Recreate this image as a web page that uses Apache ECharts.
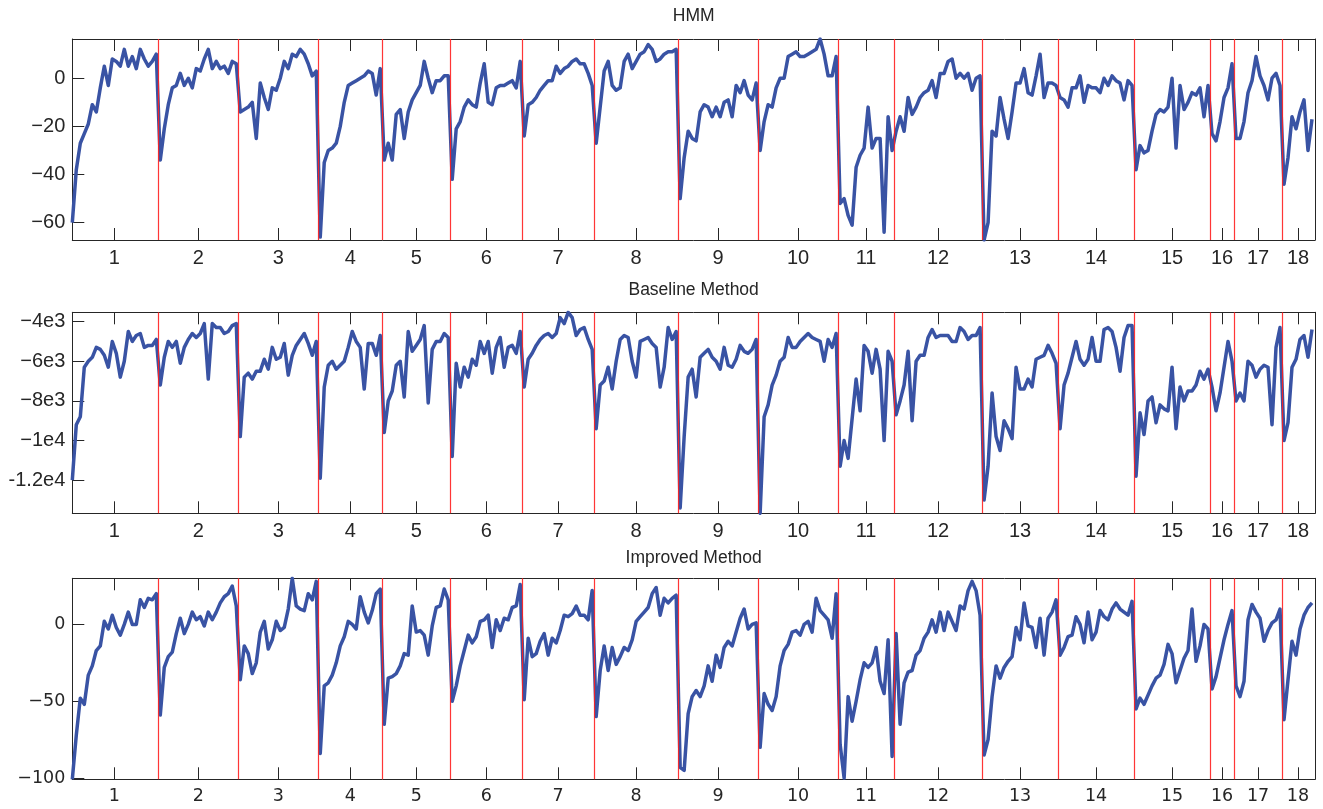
<!DOCTYPE html>
<html>
<head>
<meta charset="utf-8">
<script src="https://cdn.jsdelivr.net/npm/echarts@6/dist/echarts.min.js"></script>
<style>
html,body{margin:0;padding:0;background:#fff;}
#chart{width:1323px;height:809px;}
</style>
</head>
<body>
<div id="chart"></div>
<script>
// Number of frames in each labelled segment (segments 1..18)
const segmentLengths = [22, 20, 20, 16, 17, 18, 18, 21, 20, 20, 14, 22, 19, 19, 19, 6, 12, 8];
const segmentLabels = ['1','2','3','4','5','6','7','8','9','10','11','12','13','14','15','16','17','18'];

// Per-frame scores, one array per method
const hmm = [
  -60, -38, -27, -23, -19, -11, -14, -4, 5, -3, 8, 7, 5, 12, 5, 9, 4, 12, 8, 5, 7, 10,
  -34, -21, -11, -4, -3, 2, -3, 0, -4, 4, 3, 8, 12, 4, 7, 4, 5, 2, 7, 6,
  -14, -13, -12, -10, -25, -2, -8, -13, -4, -5, 0, 7, 4, 10, 9, 12, 10, 6, 1, 3,
  -66, -35, -30, -29, -27, -20, -10, -3, -2, -1, 0, 1, 3, 2, -7, 4,
  -34, -27, -34, -15, -13, -25, -14, -9, -6, -3, 7, 0, -6, -1, -1, 1, 1,
  -42, -21, -18, -12, -9, -11, -12, -2, 6, -10, -11, -4, -3, -3, -2, -1, -4, 7,
  -24, -11, -10, -8, -5, -3, -1, -1, 5, 2, 4, 5, 7, 8, 6, 6, 2, -3,
  -27, -12, 3, 7, -3, -5, -4, 7, 10, 4, 7, 10, 11, 14, 12, 7, 8, 10, 11, 11, 12,
  -50, -33, -22, -25, -26, -14, -11, -12, -16, -12, -16, -10, -9, -16, -3, -6, -1, -7, -9, -2,
  -30, -18, -11, -12, -4, 0, 0, 9, 10, 11, 9, 9, 10, 11, 12, 16.3, 10, 1, 1, 9,
  -52, -50, -57, -61, -37, -32, -29, -12, -29, -25, -25, -64, -16, -30,
  -22, -16, -22, -8, -15, -12, -8, -6, -5, -1, -8, 2, 2, 7, 8, 0, 2, 0, 2, -5, 0, 1,
  -67.2, -60, -22, -24, -8, -17, -25, -14, -2, -2, 4, -6, -7, 1, 10, -8, -2, -2, -3,
  -8, -9, -12, -4, -4, 1, -10, -3, -4, -4, -6, 0, -3, 1, -1, -2, -9, -1, -3,
  -38, -28, -31, -30, -22, -15, -13, -14, -12, 0, -29, -3, -13, -10, -6, -7, -4, -16, -3,
  -23, -26, -18, -8, -4, 6,
  -25, -25, -18, -6, -1, 9, 1, -3, -9, 0, 2, -3,
  -44, -33, -16, -21, -14, -9, -30, -17
];

const baseline = [
  -12000, -9200, -8800, -6300, -6000, -5800, -5300, -5400, -5700, -6300, -5000, -5600, -6800, -6000, -4500, -5000, -4700, -4600, -5300, -5200, -5200, -4900,
  -7200, -5800, -5000, -5300, -5000, -6100, -5300, -4900, -4600, -4800, -4600, -4100, -6900, -4100, -4300, -4300, -4600, -4500, -4200, -4100,
  -9800, -6800, -6600, -6900, -6500, -6500, -5900, -6400, -5300, -5900, -5800, -5100, -6700, -5700, -5200, -4900, -4600, -5100, -5700, -5000,
  -11900, -7300, -6200, -6000, -6400, -6200, -6000, -5300, -4500, -5000, -5300, -7400, -5100, -5100, -5700, -4700,
  -9600, -8000, -7500, -6200, -6000, -7800, -4500, -5500, -5200, -4900, -4200, -8100, -5400, -5000, -5000, -4600, -4800,
  -10800, -6100, -7300, -6300, -6800, -5900, -6200, -5000, -5600, -5000, -6600, -5300, -4800, -6300, -5300, -5200, -5600, -4500,
  -7300, -5900, -5600, -5200, -4900, -4700, -4600, -4800, -4600, -3800, -4100, -3530, -3800, -4700, -4400, -4300, -4900, -5400,
  -9400, -7200, -7000, -6300, -7400, -6000, -4900, -4700, -4800, -6000, -6800, -5000, -4900, -4800, -5100, -5300, -7300, -6300, -4300, -4900, -4500,
  -13400, -9800, -6800, -6400, -7800, -5800, -5600, -5400, -5800, -6000, -6400, -5300, -6200, -6300, -5900, -5200, -5500, -5600, -5400, -4900,
  -13670, -8800, -8200, -7200, -6700, -6000, -5800, -4800, -5300, -5300, -5000, -4800, -4600, -4800, -4900, -5000, -6000, -4900, -5300, -4600,
  -11300, -10000, -10900, -8900, -6900, -8500, -5200, -5500, -6600, -5400, -6400, -10000, -5500, -6000,
  -8700, -8000, -7200, -5500, -9000, -6000, -5700, -5700, -4800, -4400, -4800, -4700, -4700, -4700, -5000, -5000, -4300, -4500, -4900, -4700, -4700, -4300,
  -13000, -11300, -7600, -9800, -10500, -9000, -9400, -9900, -6300, -7400, -7400, -6900, -7300, -5900, -5800, -5700, -5200, -5600, -6100,
  -9400, -7200, -6600, -5800, -5000, -5900, -6200, -5900, -4800, -6000, -6000, -4400, -4300, -4500, -5300, -6500, -4800, -4200, -4200,
  -11800, -8600, -9700, -8000, -7800, -9100, -8200, -8400, -8500, -6300, -9400, -7300, -8000, -7500, -7500, -7200, -6500, -6900, -6400,
  -7300, -8500, -7600, -6300, -5000, -6000,
  -8000, -7600, -8000, -6000, -6200, -6800, -6400, -6200, -6300, -9200, -5300, -4300,
  -10000, -9100, -6300, -5900, -4900, -4700, -5800, -4400
];

const improved = [
  -100.8, -72, -48, -52, -33, -27, -17, -14, 2, -3, 6, -2, -7, 0, 8, 0, 0, 16, 11, 17, 16, 20,
  -59, -28, -21, -18, -6, 4, -6, 0, 8, 3, 5, -1, 8, 3, 8, 14, 18, 20, 25, 12,
  -36, -14, -19, -32, -25, -5, 2, -16, -10, 2, -4, -2, 10, 30, 12, 10, 9, 20, 16, 28,
  -84, -40, -38, -33, -25, -14, -8, 2, 0, -3, 18, 8, 1, 9, 20, 23,
  -65, -35, -34, -32, -27, -19, -20, 12, -5, -4, -7, -20, -1, 11, 12, 23, 16,
  -50, -40, -27, -17, -7, -12, -8, 2, 3, 6, -15, 3, -4, 4, 3, 11, 12, 26,
  -49, -9, -21, -19, -11, -6, -20, -9, -12, -4, 6, 5, 7, 12, 6, 6, 3, 22,
  -60, -30, -14, -30, -15, -26, -21, -15, -17, -10, 2, 5, 8, 11, 20, 24, 6, 17, 14, 17, 19,
  -93, -95, -58, -47, -43, -47, -40, -27, -37, -20, -28, -15, -11, -14, -5, 4, 10, -3, 0, 1,
  -80, -45, -52, -56, -47, -27, -17, -13, -5, -4, -7, 0, 2, -5, 17, 9, 6, 3, -9, 20,
  -78, -100, -47, -63, -50, -36, -25, -28, -25, -15, -37, -45, -10, -86,
  -6, -65, -38, -31, -30, -20, -17, -9, -5, 3, -5, 8, -4, 8, 2, -4, 12, 10, 22, 28, 22, 6,
  -85, -75, -47, -27, -35, -28, -24, -21, -2, -10, 14, -1, -2, -15, 4, -20, 4, 8, 16,
  -20, -15, -8, -7, 5, 0, -12, 8, -10, -5, 9, 5, 3, 10, 14, 10, 8, 6, 15,
  -55, -48, -52, -46, -40, -35, -33, -26, -13, -19, -38, -30, -22, -17, 10, -24, -14, 0, -3,
  -42, -34, -22, -10, 0, 9,
  -40, -47, -37, 3, 13, 8, 4, -11, -4, 1, 3, 10,
  -62, -36, -11, -20, -3, 6, 11, 14
];

// Y-axis tick values and their printed labels
const hmmTicks = [-60, -40, -20, 0];
const hmmTickLabels = ['\u221260', '\u221240', '\u221220', '0'];
const baselineTicks = [-12000, -10000, -8000, -6000, -4000];
const baselineTickLabels = ['-1.2e4', '\u22121e4', '\u22128e3', '\u22126e3', '\u22124e3'];
const improvedTicks = [-100, -50, 0];
const improvedTickLabels = ['\u2212100', '\u221250', '0'];

const panelTitles = ['HMM', 'Baseline Method', 'Improved Method'];

// Segment starts, boundaries (red lines, between two frames) and centres (x ticks)
const starts = [];
let acc = 0;
segmentLengths.forEach(n => { starts.push(acc); acc += n; });
const frameCount = acc;
const boundaries = starts.slice(1).map(s => s - 0.5);
const centres = starts.map((s, i) => (s + s + segmentLengths[i] - 1) / 2);

function segLabel(v) {
  const i = centres.findIndex(c => Math.abs(c - v) < 1e-6);
  return i >= 0 ? segmentLabels[i] : '';
}
function tickLabel(ticks, labels) {
  return v => {
    const i = ticks.findIndex(t => Math.abs(t - v) < 1e-6);
    return i >= 0 ? labels[i] : '';
  };
}

const ink = '#262626';
const blue = '#3953a4';
const red = '#ff2020';

const panels = [
  { values: hmm, ticks: hmmTicks, labels: hmmTickLabels, font: 'Liberation Sans', size: 20, top: 39 },
  { values: baseline, ticks: baselineTicks, labels: baselineTickLabels, font: 'Liberation Sans', size: 20, top: 312.3 },
  { values: improved, ticks: improvedTicks, labels: improvedTickLabels, font: 'DejaVu Sans', size: 17.5, top: 578.3 }
];
const plotLeft = 72.3, plotRight = 8, plotHeight = 201;
const titleY = [16, 290, 558];

const grid = [], xAxis = [], yAxis = [], series = [], graphic = [];

panels.forEach((p, k) => {
  grid.push({ left: plotLeft, right: plotRight, top: p.top, height: plotHeight, containLabel: false });
  const axisLine = { show: true, onZero: false, lineStyle: { color: ink, width: 1 } };
  const tickStyle = { color: ink, width: 1 };
  ['bottom', 'top'].forEach(pos => {
    xAxis.push({
      gridIndex: k, type: 'value', position: pos, min: 0, max: frameCount - 0.25,
      axisLine,
      axisTick: { show: true, inside: true, length: 12, customValues: centres, lineStyle: tickStyle },
      axisLabel: {
        show: pos === 'bottom', customValues: centres, formatter: segLabel, margin: 8,
        fontFamily: p.font, fontSize: p.size, color: ink
      },
      splitLine: { show: false }
    });
  });
  ['left', 'right'].forEach(pos => {
    yAxis.push({
      gridIndex: k, type: 'value', position: pos, min: 'dataMin', max: 'dataMax', scale: true,
      axisLine,
      axisTick: { show: true, inside: true, length: 12, customValues: p.ticks, lineStyle: tickStyle },
      axisLabel: {
        show: pos === 'left', customValues: p.ticks, formatter: tickLabel(p.ticks, p.labels), margin: 7,
        fontFamily: p.font, fontSize: p.size, color: ink
      },
      splitLine: { show: false }
    });
  });
  series.push({
    type: 'line',
    xAxisIndex: 2 * k, yAxisIndex: 2 * k,
    data: p.values.map((v, i) => [i, v]),
    symbol: 'none', showSymbol: false,
    lineStyle: { color: blue, width: 3.5, join: 'round' },
    markLine: {
      silent: true, symbol: 'none', animation: false,
      label: { show: false },
      lineStyle: { color: red, width: 1.2, type: 'solid', opacity: 0.9 },
      emphasis: { disabled: true },
      data: boundaries.map(b => ({ xAxis: b }))
    }
  });
  graphic.push({
    type: 'text', x: plotLeft + (1323 - plotRight - plotLeft) / 2, y: titleY[k],
    style: { text: panelTitles[k], fill: ink, fontSize: 17.5, fontFamily: 'Liberation Sans', align: 'center', verticalAlign: 'middle' }
  });
});

const chart = echarts.init(document.getElementById('chart'), null, { renderer: 'canvas' });
chart.setOption({
  animation: false,
  backgroundColor: '#ffffff',
  grid, xAxis, yAxis, series, graphic
});
</script>
</body>
</html>
